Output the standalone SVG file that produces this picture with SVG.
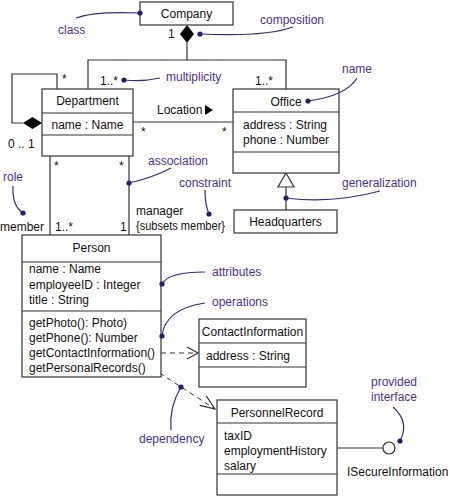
<svg xmlns="http://www.w3.org/2000/svg" width="450" height="497" viewBox="0 0 450 497">
<style>
text{font-family:"Liberation Sans",Arial,sans-serif;font-size:12px;fill:#111}
.box{fill:#fff;stroke:#333;stroke-width:1.2}
.ln{fill:none;stroke:#333;stroke-width:1.2}
.dash{fill:none;stroke:#333;stroke-width:1;stroke-dasharray:5,4}
.c{text-anchor:middle}
.ann text{fill:#4a3192}
.lead{fill:none;stroke:#3a2785;stroke-width:1.2}
.dot{fill:#2a1a70}
</style>
<rect width="450" height="497" fill="#fff"/>
<g id="connectors">
  <path class="ln" d="M187,43 V60 M88,89 V60 H286 V89"/>
  <polygon points="187,25 194,34 187,43 180,34" fill="#000"/>
  <polyline class="ln" points="57,89 57,74 12,74 12,123 23,123"/>
  <polygon points="23,123 32.5,117 42,123 32.5,129" fill="#000"/>
  <path class="ln" d="M133,122 H233"/>
  <polygon points="205,105 213,110 205,115" fill="#000"/>
  <path class="ln" d="M286,187 V210"/>
  <polygon points="286,173 294,187 278,187" fill="#fff" stroke="#333" stroke-width="1.2"/>
  <path class="ln" d="M50,156 V235 M129,156 V235"/>
  <path class="dash" d="M161,353 H197"/>
  <path class="ln" d="M187,347 L198,353 L187,359"/>
  <path class="dash" d="M152,368 L215,409"/>
  <path class="ln" d="M199.7,405.4 L215,409 L206.2,395.9"/>
  <path class="ln" d="M337,448 H383"/>
  <circle cx="389" cy="448" r="6" fill="#fff" stroke="#333" stroke-width="1.2"/>
  <text x="168" y="38">1</text>
  <text x="100" y="85">1..*</text>
  <text x="255" y="85">1..*</text>
  <text x="62" y="83">*</text>
  <text x="8" y="148">0 .. 1</text>
  <text x="157" y="114">Location</text>
  <text x="141" y="136">*</text>
  <text x="222" y="136">*</text>
  <text x="54" y="170">*</text>
  <text x="119" y="170">*</text>
  <text x="0" y="231">member</text>
  <text x="55" y="231">1..*</text>
  <text x="120" y="231">1</text>
  <text x="136" y="215">manager</text>
  <text x="136" y="230" textLength="89" lengthAdjust="spacingAndGlyphs">{subsets member}</text>
  <text x="347" y="476">ISecureInformation</text>
</g>
<g id="company">
  <rect class="box" x="140" y="2" width="93" height="23"/>
  <text class="c" x="186.5" y="18">Company</text>
</g>
<g id="department">
  <rect class="box" x="42" y="89" width="91" height="67"/>
  <path class="ln" d="M42,113 H133 M42,135 H133"/>
  <text class="c" x="87.5" y="105">Department</text>
  <text class="c" x="87.5" y="129">name : Name</text>
</g>
<g id="office">
  <rect class="box" x="233" y="89" width="106" height="84"/>
  <path class="ln" d="M233,112 H339 M233,152 H339"/>
  <text class="c" x="286" y="106">Office</text>
  <text x="243" y="129">address : String</text>
  <text x="243" y="144">phone : Number</text>
</g>
<g id="headquarters">
  <rect class="box" x="234" y="210" width="103" height="23"/>
  <text class="c" x="285.5" y="226">Headquarters</text>
</g>
<g id="person">
  <rect class="box" x="22" y="235" width="139" height="142"/>
  <path class="ln" d="M22,262 H161 M22,311 H161"/>
  <text class="c" x="91.5" y="252">Person</text>
  <text x="29" y="273">name : Name</text>
  <text x="29" y="289">employeeID : Integer</text>
  <text x="29" y="304">title : String</text>
  <text x="29" y="327">getPhoto(): Photo)</text>
  <text x="29" y="342">getPhone(): Number</text>
  <text x="29" y="357">getContactInformation()</text>
  <text x="29" y="372">getPersonalRecords()</text>
</g>
<g id="contactinformation">
  <rect class="box" x="199" y="319" width="107" height="68"/>
  <path class="ln" d="M199,343 H306 M199,367 H306"/>
  <text class="c" x="252.5" y="336">ContactInformation</text>
  <text x="206" y="360">address : String</text>
</g>
<g id="personnelrecord">
  <rect class="box" x="217" y="400" width="120" height="95"/>
  <path class="ln" d="M217,423 H337 M217,474 H337"/>
  <text class="c" x="277" y="417">PersonnelRecord</text>
  <text x="224" y="440">taxID</text>
  <text x="224" y="455">employmentHistory</text>
  <text x="224" y="470">salary</text>
</g>
<g id="annotations" class="ann">
  <text x="58" y="34">class</text>
  <path class="lead" d="M76,18 Q95,11 140,13"/>
  <circle class="dot" cx="140" cy="13" r="2.6"/>
  <text x="260" y="24">composition</text>
  <path class="lead" d="M200,34 Q265,37 293,27"/>
  <circle class="dot" cx="200" cy="34" r="2.6"/>
  <text x="166" y="81">multiplicity</text>
  <path class="lead" d="M124,80 Q142,82 160,78"/>
  <circle class="dot" cx="124" cy="80" r="2.6"/>
  <text x="342" y="73">name</text>
  <path class="lead" d="M308,101 Q346,96 357,78"/>
  <circle class="dot" cx="308" cy="101" r="2.6"/>
  <text x="148" y="165">association</text>
  <path class="lead" d="M129,183 Q152,178 171,168"/>
  <circle class="dot" cx="129" cy="183" r="2.6"/>
  <text x="3" y="181">role</text>
  <path class="lead" d="M13,186 Q12,206 23,213"/>
  <circle class="dot" cx="23" cy="213" r="2.6"/>
  <text x="179" y="187">constraint</text>
  <path class="lead" d="M205,190 Q205,205 209,214"/>
  <circle class="dot" cx="209" cy="214" r="2.6"/>
  <text x="212" y="276">attributes</text>
  <path class="lead" d="M162,284 Q168,272 205,272"/>
  <circle class="dot" cx="162" cy="284" r="2.6"/>
  <text x="212" y="306">operations</text>
  <path class="lead" d="M162,336 Q165,309 205,303"/>
  <circle class="dot" cx="162" cy="336" r="2.6"/>
  <text x="342" y="187">generalization</text>
  <path class="lead" d="M286,198 Q332,204 380,191"/>
  <circle class="dot" cx="286" cy="198" r="2.6"/>
  <text x="139" y="443">dependency</text>
  <path class="lead" d="M181,387 Q169,407 171,430"/>
  <circle class="dot" cx="181" cy="387" r="2.6"/>
  <text x="371" y="386">provided</text>
  <text x="371" y="401">interface</text>
  <path class="lead" d="M393,407 Q410,422 400,441"/>
  <circle class="dot" cx="400" cy="441" r="2.6"/>
</g>
</svg>
